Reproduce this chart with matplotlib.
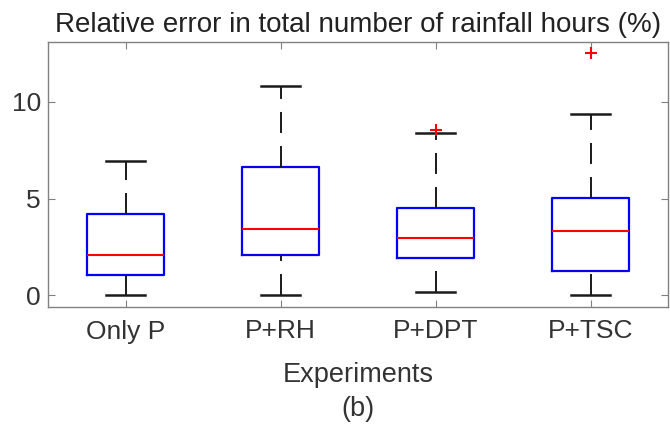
import matplotlib
matplotlib.use("Agg")
import matplotlib.pyplot as plt

categories = ["Only P", "P+RH", "P+DPT", "P+TSC"]
whislo = [0.0, 0.0, 0.17, 0.0]
q1 = [1.04, 2.11, 1.92, 1.25]
med = [2.09, 3.41, 2.98, 3.32]
q3 = [4.20, 6.64, 4.52, 5.05]
whishi = [6.97, 10.81, 8.37, 9.39]
outliers = [[], [], [8.56], [12.54]]
yticks = [0, 5, 10]

plt.rcParams['font.family'] = ['Liberation Sans', 'DejaVu Sans']

fig = plt.figure(figsize=(6.7, 4.26), dpi=100)
ax = fig.add_axes([48/670, 1 - 307/426, 620/670, 265/426])

stats = []
for i, c in enumerate(categories):
    stats.append(dict(label=c, whislo=whislo[i], q1=q1[i], med=med[i],
                      q3=q3[i], whishi=whishi[i], fliers=outliers[i]))

res = ax.bxp(stats, positions=[1, 2, 3, 4], widths=0.5, showfliers=True,
             boxprops=dict(color='#0000ff', linewidth=1.6),
             medianprops=dict(color='#ff0000', linewidth=1.5),
             whiskerprops=dict(color='#1a1a1a', linewidth=1.4,
                               linestyle=(0, (10.8, 6.7))),
             capprops=dict(color='#1a1a1a', linewidth=1.8),
             capwidths=0.25,
             flierprops=dict(marker='+', markeredgecolor='#ff0000', markersize=9,
                             markeredgewidth=1.5, linestyle='none'))

# lower whiskers: start dash pattern at the cap (MATLAB-like)
for k, w in enumerate(res['whiskers']):
    if k % 2 == 0:
        xd, yd = w.get_data()
        w.set_data(list(xd)[::-1], list(yd)[::-1])

ax.set_xlim(0.5, 4.5)
ax.set_ylim(-0.6, 13.1)
ax.set_yticks(yticks)
ax.set_xticks([1, 2, 3, 4])
ax.set_xticklabels(categories)
for s in ax.spines.values():
    s.set_color('#808080')
    s.set_linewidth(1.0)
ax.tick_params(direction='in', top=True, right=True, color='#808080',
               labelsize=19, labelcolor='#333333', length=5)
ax.tick_params(axis='x', pad=9)
ax.tick_params(axis='y', pad=5)
ax.set_title("Relative error in total number of rainfall hours (%)",
             fontsize=20, color='#222222', pad=7)
ax.set_xlabel("Experiments", fontsize=19.5, color='#333333', labelpad=13)
fig.text(358/670, 1 - 409/426, "(b)", ha='center', va='center',
         fontsize=19.5, color='#333333')

fig.savefig("out.png", dpi=100)
